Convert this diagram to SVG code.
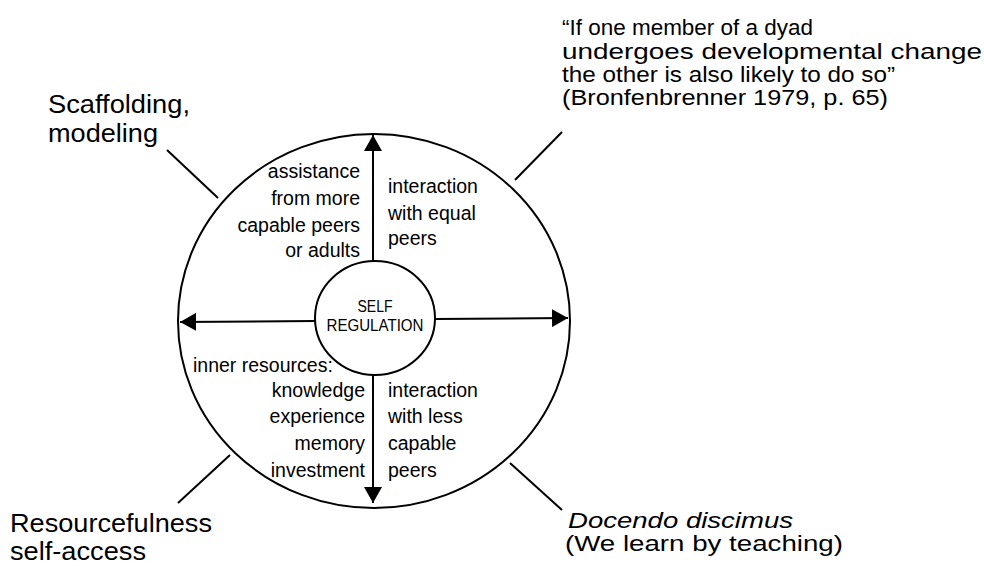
<svg xmlns="http://www.w3.org/2000/svg" width="984" height="566" viewBox="0 0 984 566">
<style>
.ln{fill:none;stroke:#000;stroke-width:2}
.in{font-family:"Liberation Sans",Arial,sans-serif;font-size:19.5px;fill:#000}
.ct{font-family:"Liberation Sans",Arial,sans-serif;font-size:16px;fill:#000;text-anchor:middle}
.out{font-family:"Liberation Sans",Arial,sans-serif;font-size:22px;fill:#000}
.big{font-family:"Liberation Sans",Arial,sans-serif;font-size:25px;fill:#000}
.r{text-anchor:end}
</style>
<defs>
<marker id="ah" markerWidth="18" markerHeight="18" refX="16" refY="9" orient="auto" markerUnits="userSpaceOnUse">
<path d="M0,0 L16,9 L0,18 Z" fill="#000"/>
</marker>
</defs>
<rect width="984" height="566" fill="#fff"/>
<g id="outer-circle">
<ellipse class="ln" cx="374" cy="321" rx="196" ry="187"/>
</g>
<g id="self-regulation">
<ellipse class="ln" cx="375" cy="318" rx="60" ry="57" fill="#fff"/>
<text class="ct" x="375" y="312" textLength="35" lengthAdjust="spacingAndGlyphs">SELF</text>
<text class="ct" x="375" y="331" textLength="97" lengthAdjust="spacingAndGlyphs">REGULATION</text>
</g>
<g id="connectors">
<line class="ln" x1="373" y1="261" x2="373" y2="135" marker-end="url(#ah)"/>
<line class="ln" x1="373" y1="375" x2="373" y2="503" marker-end="url(#ah)"/>
<line class="ln" x1="315" y1="321" x2="180" y2="322" marker-end="url(#ah)"/>
<line class="ln" x1="435" y1="319" x2="568" y2="318" marker-end="url(#ah)"/>
<line class="ln" x1="167" y1="150" x2="218" y2="198"/>
<line class="ln" x1="515" y1="180" x2="562" y2="132"/>
<line class="ln" x1="230" y1="455" x2="178" y2="503"/>
<line class="ln" x1="510" y1="463" x2="562" y2="510"/>
</g>
<g id="quadrant-top-left">
<text class="in r" x="360" y="178">assistance</text>
<text class="in r" x="360" y="205">from more</text>
<text class="in r" x="360" y="232">capable peers</text>
<text class="in r" x="360" y="257">or adults</text>
</g>
<g id="quadrant-top-right">
<text class="in" x="388" y="193">interaction</text>
<text class="in" x="388" y="220">with equal</text>
<text class="in" x="388" y="245">peers</text>
</g>
<g id="quadrant-bottom-left">
<text class="in" x="193" y="372">inner resources:</text>
<text class="in r" x="365" y="397">knowledge</text>
<text class="in r" x="365" y="423">experience</text>
<text class="in r" x="365" y="450">memory</text>
<text class="in r" x="365" y="477">investment</text>
</g>
<g id="quadrant-bottom-right">
<text class="in" x="388" y="397">interaction</text>
<text class="in" x="388" y="423">with less</text>
<text class="in" x="388" y="450">capable</text>
<text class="in" x="388" y="477">peers</text>
</g>
<g id="label-scaffolding">
<text class="big" x="48" y="113" textLength="142" lengthAdjust="spacingAndGlyphs">Scaffolding,</text>
<text class="big" x="48" y="142" textLength="110" lengthAdjust="spacingAndGlyphs">modeling</text>
</g>
<g id="label-quote">
<text class="out" x="562" y="35" textLength="251" lengthAdjust="spacingAndGlyphs">“If one member of a dyad</text>
<text class="out" x="562" y="59" textLength="420" lengthAdjust="spacingAndGlyphs">undergoes developmental change</text>
<text class="out" x="562" y="82" textLength="333" lengthAdjust="spacingAndGlyphs">the other is also likely to do so”</text>
<text class="out" x="562" y="105" textLength="326" lengthAdjust="spacingAndGlyphs">(Bronfenbrenner 1979, p. 65)</text>
</g>
<g id="label-resourcefulness">
<text class="big" x="10" y="532" textLength="202" lengthAdjust="spacingAndGlyphs">Resourcefulness</text>
<text class="big" x="10" y="560" textLength="136" lengthAdjust="spacingAndGlyphs">self-access</text>
</g>
<g id="label-docendo">
<text class="out" x="568" y="528" font-style="italic" textLength="225" lengthAdjust="spacingAndGlyphs">Docendo discimus</text>
<text class="out" x="565" y="551" textLength="278" lengthAdjust="spacingAndGlyphs">(We learn by teaching)</text>
</g>
</svg>
